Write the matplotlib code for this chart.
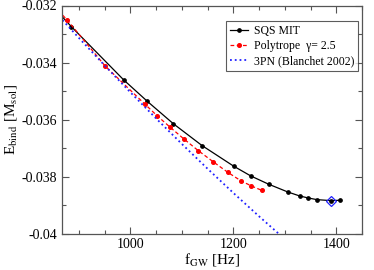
import matplotlib
matplotlib.use("Agg")
import matplotlib.pyplot as plt
from matplotlib.ticker import FixedLocator, MultipleLocator, FixedFormatter

plt.rcParams['font.family'] = ['Liberation Serif', 'DejaVu Serif']
plt.rcParams['mathtext.fontset'] = 'stix'

# SQS MIT
sqs_f = [860, 885, 987, 1033, 1083.5, 1139, 1200.6, 1233.6, 1268.5, 1305.4, 1328.7, 1345, 1362.5, 1390.3, 1407.2]
sqs_E = [-0.03225, -0.032737, -0.034607, -0.035358, -0.036141, -0.036902, -0.037625, -0.037965,
         -0.038256, -0.038526, -0.038667, -0.038737, -0.038797, -0.038832, -0.038818]

# Polytrope gamma = 2.5
poly_f = [860, 876.7, 950.5, 1027.8, 1051.8, 1077.7, 1103.5, 1131.5, 1160.2, 1189.3, 1215.5, 1235, 1255.3]
poly_E = [-0.03218, -0.03250, -0.034112, -0.035449, -0.035860, -0.036270, -0.036667, -0.037077,
          -0.037463, -0.037842, -0.038147, -0.038316, -0.038474]

# 3PN (Blanchet 2002)
pn_f = [868, 900, 950, 1000, 1050, 1100, 1150, 1200, 1250, 1300]
pn_E = [-0.03251, -0.033139, -0.034102, -0.035041, -0.035957, -0.036849, -0.037717, -0.038562,
        -0.039382, -0.040179]

# highlighted point
mark_f = [1390.3]
mark_E = [-0.038832]

xticks = [1000, 1200, 1400]
xticklabels = ['1000', '1200', '1400']
yticks = [-0.04, -0.038, -0.036, -0.034, -0.032]
yticklabels = ['-0.04', '-0.038', '-0.036', '-0.034', '-0.032']

fig = plt.figure(figsize=(3.74, 2.70), dpi=100)
ax = fig.add_axes([62/374, 1-234/270, (362-62)/374, (234-5.5)/270])

ax.plot(sqs_f, sqs_E, '-', color='black', lw=0.9, marker='o', ms=2.4, label='SQS MIT')
ax.plot(poly_f, poly_E, '--', color='red', lw=0.9, marker='o', ms=2.6, dashes=(3, 2),
        label='Polytrope  γ= 2.5')
ax.plot(pn_f, pn_E, ':', color='#2020ff', lw=1.3, label='3PN (Blanchet 2002)')
ax.plot(mark_f, mark_E, 'D', mfc='none', mec='#2020ff', ms=5, mew=0.9)

ax.set_xlim(867, 1450)
ax.set_ylim(-0.04, -0.032)

ax.xaxis.set_major_locator(FixedLocator(xticks))
ax.xaxis.set_major_formatter(FixedFormatter(xticklabels))
ax.xaxis.set_minor_locator(MultipleLocator(50))
ax.yaxis.set_major_locator(FixedLocator(yticks))
ax.yaxis.set_major_formatter(FixedFormatter(yticklabels))
ax.yaxis.set_minor_locator(MultipleLocator(0.001))

ax.tick_params(which='both', direction='in', top=True, right=True, color='#555555', width=0.8)
ax.tick_params(which='major', length=5, labelsize=10)
ax.tick_params(axis='x', which='major', pad=3)
ax.tick_params(which='minor', length=3)
for s in ax.spines.values():
    s.set_color('#555555')
    s.set_linewidth(0.9)

ax.set_xlabel(r'f$_{\rm GW}$ [Hz]', fontsize=11, labelpad=0)
ax.set_ylabel(r'E$_{\rm bind}$ [M$_{\rm sol}$]', fontsize=11, labelpad=2)

leg = ax.legend(loc='upper right', bbox_to_anchor=(0.987, 0.932), fontsize=8.5, frameon=True,
                fancybox=False, edgecolor='#333333', handlelength=1.5, handletextpad=0.5,
                borderpad=0.35, labelspacing=0.25, borderaxespad=0)
leg.get_frame().set_linewidth(0.8)

fig.savefig('out.png', dpi=100)
